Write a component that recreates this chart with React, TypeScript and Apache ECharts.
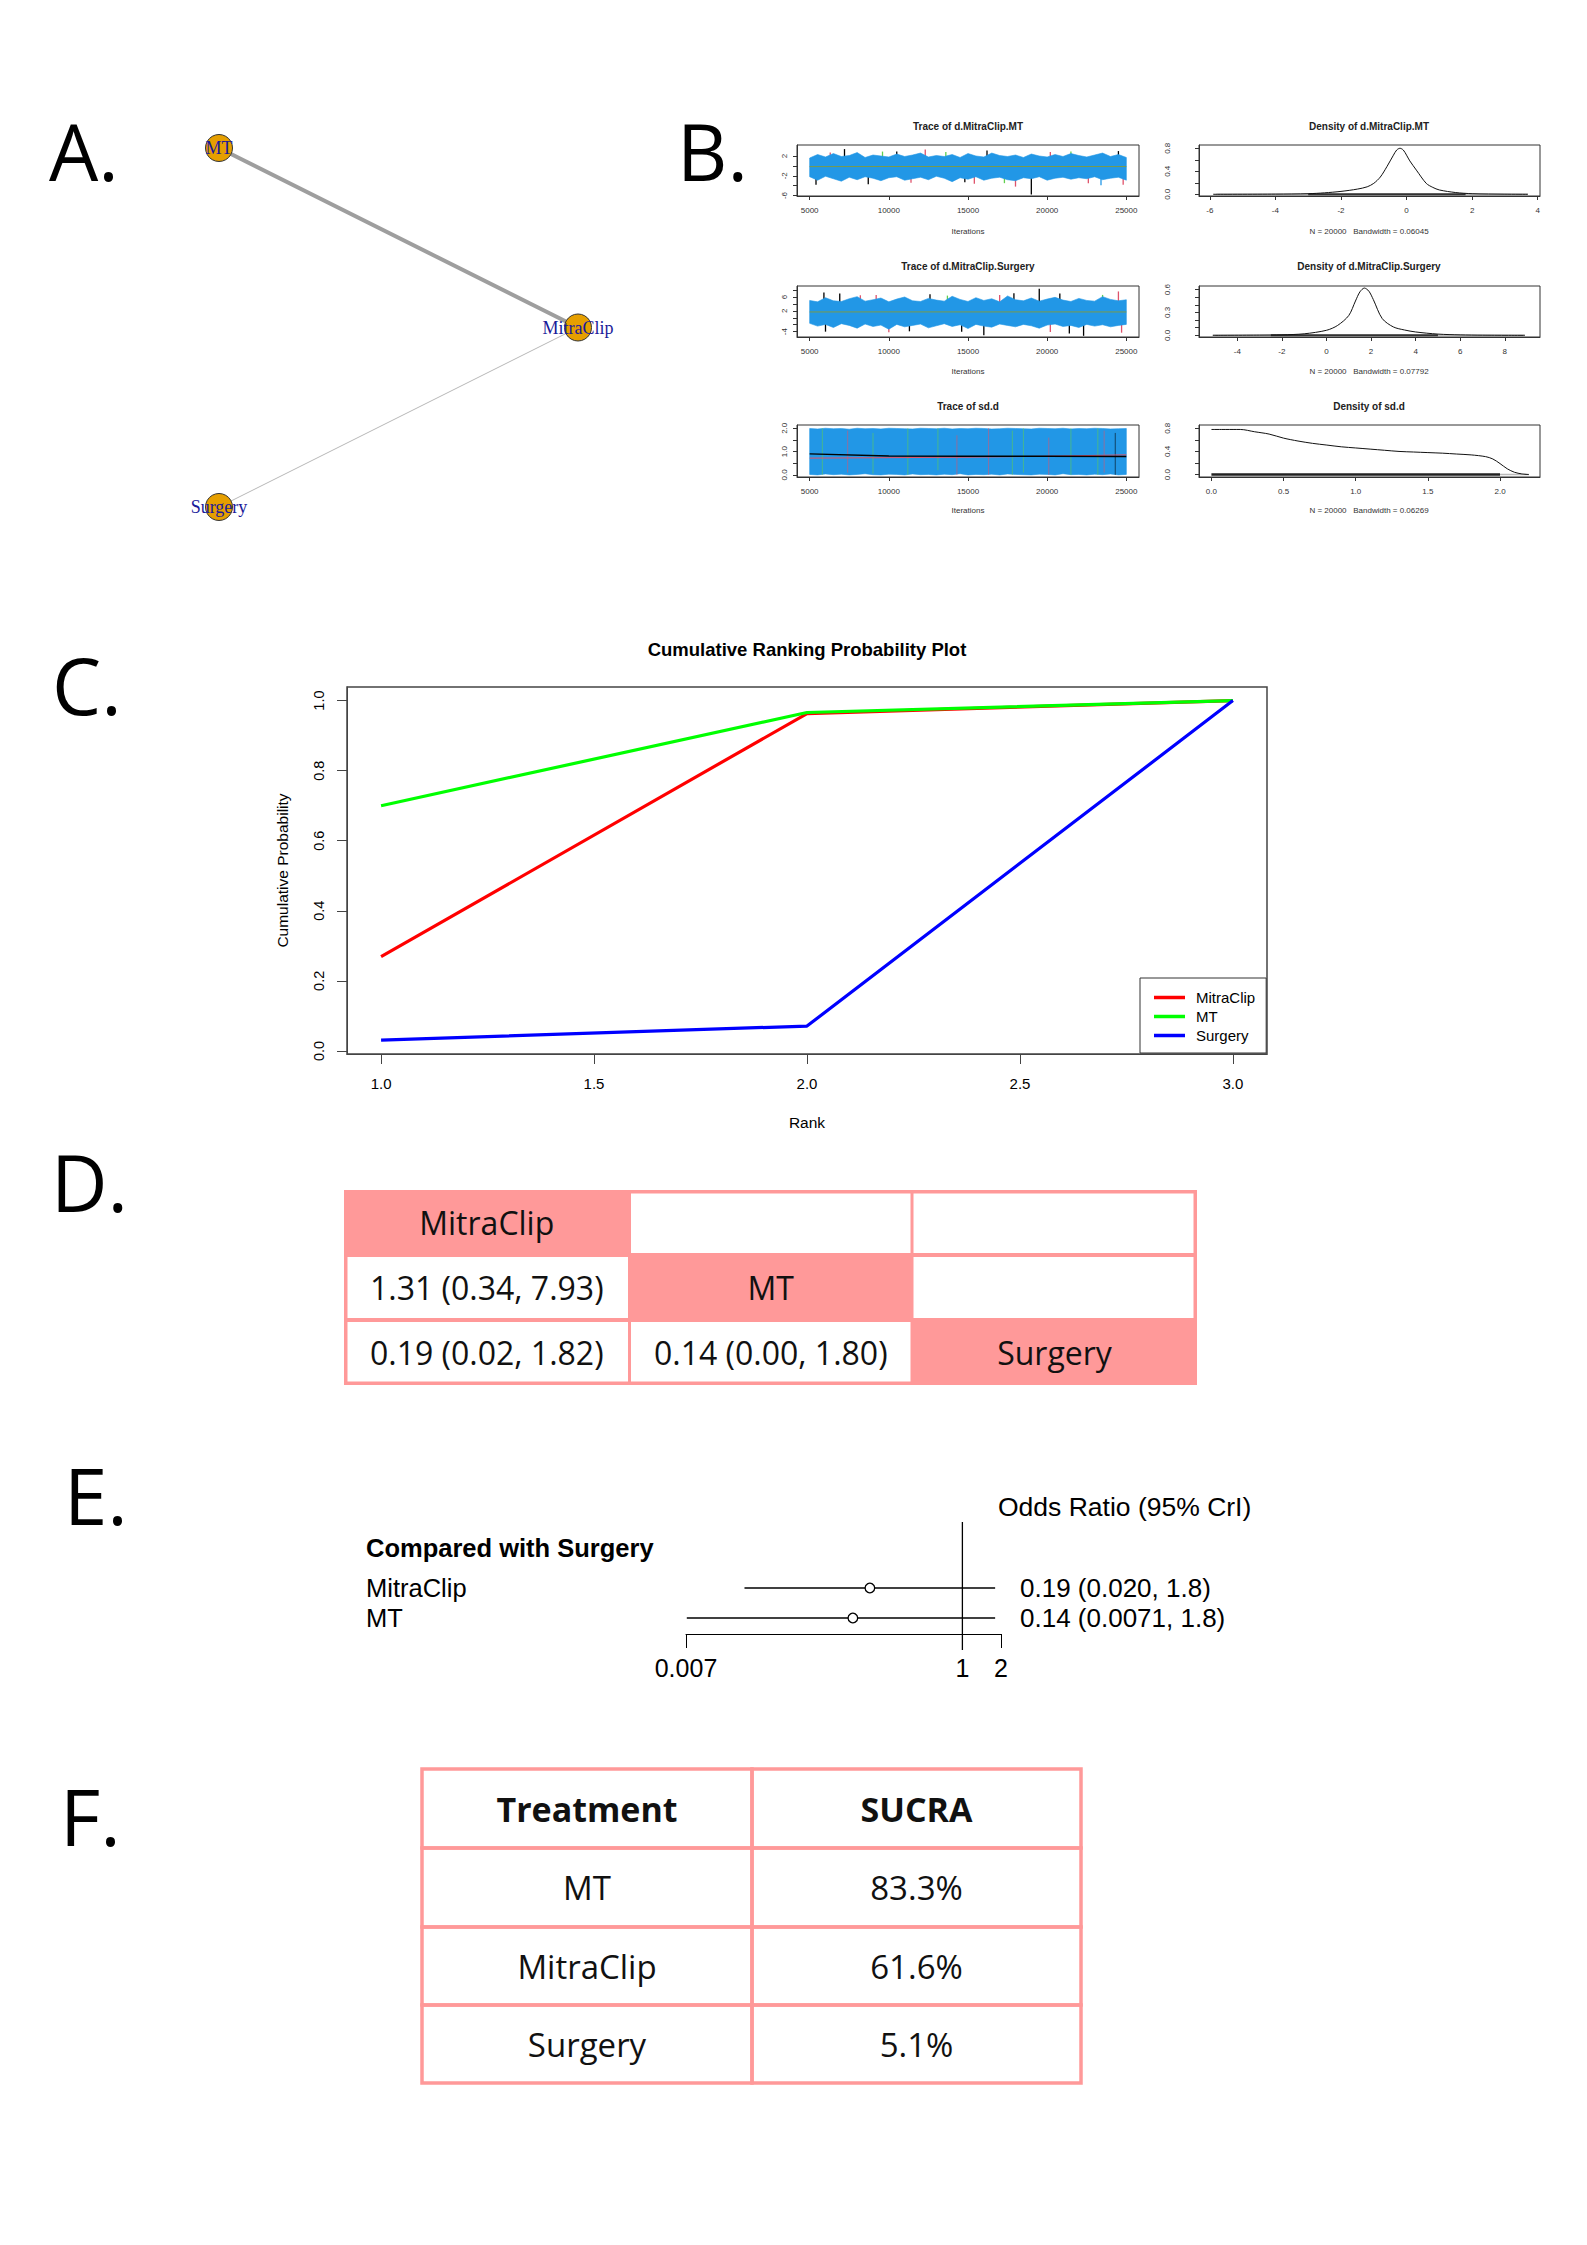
import React, { useEffect, useRef } from "react";
import * as echarts from "echarts";

const W = 1587;
const H = 2245;

// ---------------- Panel A: network ----------------
const netNodes = ["MitraClip", "MT", "Surgery"];
const netLayoutX = [1, -0.5, -0.5];
const netLayoutY = [0, 0.866, -0.866];
const netEdgeFrom = ["MT", "MitraClip"];
const netEdgeTo = ["MitraClip", "Surgery"];
const netEdgeStudies = [4, 1];

// ---------------- Panel B: traces ----------------
const traceIter = [5000, 5500, 6000, 6500, 7000, 7500, 8000, 8500, 9000, 9500, 10000, 10500, 11000, 11500, 12000, 12500, 13000, 13500, 14000, 14500, 15000, 15500, 16000, 16500, 17000, 17500, 18000, 18500, 19000, 19500, 20000, 20500, 21000, 21500, 22000, 22500, 23000, 23500, 24000, 24500, 25000];
const trace1Upper = [1.6, 2.3, 1.8, 2.5, 1.9, 2.1, 2.7, 1.7, 2.2, 2.0, 1.8, 2.4, 1.9, 2.2, 2.6, 1.8, 2.1, 1.9, 2.3, 1.7, 2.5, 2.0, 1.8, 2.6, 2.1, 1.9, 2.2, 1.7, 2.4, 2.0, 1.8, 2.3, 1.9, 2.5, 2.1, 1.8, 2.2, 2.6, 1.9, 2.3, 1.7];
const trace1Lower = [-2.2, -2.9, -2.1, -2.6, -3.1, -2.3, -2.8, -2.2, -2.5, -3.0, -2.4, -2.2, -2.9, -2.6, -2.3, -2.8, -2.1, -2.5, -3.2, -2.4, -2.7, -2.2, -2.9, -2.5, -2.3, -2.8, -3.0, -2.4, -2.6, -2.2, -2.9, -2.5, -2.3, -2.7, -2.4, -2.6, -2.2, -2.8, -2.5, -2.3, -2.9];
const trace2Upper = [5.0, 4.6, 5.8, 4.9, 4.7, 5.5, 6.1, 4.8, 5.2, 5.7, 4.6, 5.4, 6.0, 4.9, 4.7, 5.6, 5.1, 4.8, 6.2, 5.3, 4.7, 5.8, 5.0, 5.5, 4.6, 6.3, 5.2, 4.9, 5.7, 4.8, 5.4, 5.9, 5.1, 4.7, 5.6, 5.0, 4.8, 6.1, 5.3, 4.9, 5.2];
const trace2Lower = [-1.6, -2.4, -1.9, -2.8, -1.7, -2.2, -3.0, -1.8, -2.5, -2.1, -3.3, -1.9, -2.6, -2.2, -1.8, -2.9, -2.3, -1.7, -2.5, -2.0, -3.1, -1.9, -2.4, -2.7, -1.8, -2.2, -2.6, -1.9, -2.3, -3.0, -2.1, -1.8, -2.5, -2.2, -2.8, -1.9, -2.4, -2.0, -2.6, -2.2, -1.9];
const trace3Upper = [1.99, 1.97, 2.0, 1.98, 1.99, 1.96, 2.0, 1.98, 1.99, 1.97, 2.0, 1.99, 1.98, 1.97, 2.0, 1.99, 1.98, 2.0, 1.97, 1.99, 1.98, 2.0, 1.99, 1.97, 1.98, 2.0, 1.99, 1.98, 1.97, 2.0, 1.99, 1.98, 2.0, 1.97, 1.99, 1.98, 2.0, 1.99, 1.97, 1.98, 1.99];
const trace3Lower = [0.02, 0.0, 0.04, 0.01, 0.03, 0.0, 0.02, 0.05, 0.01, 0.0, 0.03, 0.02, 0.0, 0.04, 0.01, 0.02, 0.0, 0.03, 0.01, 0.05, 0.0, 0.02, 0.01, 0.03, 0.0, 0.04, 0.02, 0.01, 0.0, 0.03, 0.02, 0.0, 0.05, 0.01, 0.02, 0.0, 0.03, 0.01, 0.04, 0.0, 0.02];
// [iteration, from, to, chain]
const trace1Spikes = [[5400, -1, -3.8, 0], [6300, 1, 2.7, 1], [7200, 1, 3.4, 0], [8700, -1, -3.7, 0], [9600, 1, 2.9, 2], [10500, 1, 2.9, 0], [11400, -1, -3.4, 1], [12300, 1, 3.3, 1], [13600, 1, 2.8, 2], [14800, -1, -3.3, 0], [15400, -1, -3.6, 1], [16200, 1, 3.1, 0], [17300, -1, -3.5, 2], [18000, -1, -4.2, 1], [19000, -1, -5.8, 0], [20200, 1, 2.8, 1], [21500, 1, 2.9, 2], [22600, -1, -3.5, 1], [23400, -1, -3.9, 3], [24500, 1, 3.0, 0], [24800, -1, -3.8, 1]];
const trace2Spikes = [[5900, 2, 7.3, 0], [6000, 0, -4.0, 0], [6900, 2, 7.0, 0], [8200, 2, 6.5, 1], [9200, 2, 6.6, 1], [10000, 0, -4.2, 1], [11300, 0, -3.9, 0], [12600, 2, 6.8, 0], [13700, 2, 6.4, 2], [14600, 0, -4.0, 0], [16000, 0, -5.0, 0], [17000, 2, 6.6, 1], [17900, 2, 7.1, 0], [19500, 2, 8.4, 0], [20200, 0, -4.1, 1], [20800, 2, 7.0, 0], [21400, 0, -4.5, 0], [22300, 0, -5.2, 0], [23500, 2, 6.6, 2], [24500, 2, 7.6, 1], [24700, 0, -4.3, 1]];
const trace3Stripes = [[5800, 0, 2, 2], [7400, 0.1, 1.9, 1], [9000, 0.05, 1.8, 2], [11200, 0, 2, 2], [13100, 0.2, 2, 2], [14300, 0, 1.7, 1], [16300, 0, 2, 1], [17800, 0, 1.9, 2], [18500, 0.1, 2, 2], [20100, 0, 1.6, 1], [21500, 0, 2, 2], [23200, 0, 2, 2], [23600, 0.1, 1.9, 1], [24300, 0, 1.8, 0]];
const traceSmoothIter = [5000, 10000, 15000, 20000, 25000];
const trace1Smooth = [-0.15, -0.13, -0.14, -0.13, -0.14];
const trace2Smooth = [1.68, 1.7, 1.69, 1.7, 1.68];
const trace3SmoothA = [0.9, 0.81, 0.8, 0.8, 0.79];
const trace3SmoothB = [0.72, 0.74, 0.76, 0.8, 0.86];

// ---------------- Panel B: densities ----------------
const dens1X = [-5.9, -4, -3, -2.5, -2, -1.5, -1.2, -1, -0.8, -0.6, -0.4, -0.3, -0.2, -0.1, 0, 0.1, 0.3, 0.6, 0.8, 1, 1.5, 2, 3, 3.7];
const dens1Y = [0, 0.003, 0.01, 0.025, 0.05, 0.09, 0.13, 0.19, 0.3, 0.48, 0.68, 0.77, 0.8, 0.77, 0.68, 0.58, 0.42, 0.19, 0.12, 0.075, 0.03, 0.01, 0.002, 0];
const dens2X = [-5.1, -3, -2, -1, 0, 0.5, 1, 1.3, 1.5, 1.7, 1.9, 2.1, 2.5, 3, 3.5, 4, 5, 6, 7, 8.9];
const dens2Y = [0, 0.003, 0.006, 0.02, 0.066, 0.13, 0.26, 0.45, 0.57, 0.62, 0.58, 0.47, 0.22, 0.11, 0.07, 0.044, 0.016, 0.006, 0.002, 0];
const dens3X = [0, 0.1, 0.2, 0.3, 0.4, 0.5, 0.6, 0.7, 0.8, 0.9, 1.0, 1.1, 1.2, 1.3, 1.4, 1.5, 1.6, 1.7, 1.8, 1.9, 1.95, 2.0, 2.05, 2.1, 2.15, 2.2];
const dens3Y = [0.78, 0.78, 0.78, 0.74, 0.7, 0.63, 0.58, 0.54, 0.51, 0.48, 0.46, 0.44, 0.42, 0.4, 0.39, 0.38, 0.37, 0.355, 0.34, 0.31, 0.27, 0.19, 0.1, 0.04, 0.012, 0];
const dens1RugLight = [-5.8, 3.7];
const dens1RugDark = [-3, 1.8];
const dens2RugLight = [-5.1, 8.9];
const dens2RugDark = [-2.5, 5];
const dens3RugLight = [2.0, 2.2];
const dens3RugDark = [0, 2.0];
const densBandwidth = ["0.06045", "0.07792", "0.06269"];

// ---------------- Panel C ----------------
const rankX = [1, 2, 3];
const cumNames = ["MitraClip", "MT", "Surgery"];
const cumMitraClip = [0.269, 0.963, 1];
const cumMT = [0.7, 0.966, 1];
const cumSurgery = [0.031, 0.071, 1];
const cTicksX = [1, 1.5, 2, 2.5, 3];
const cTicksY = [0, 0.2, 0.4, 0.6, 0.8, 1.0];

// ---------------- Panel D ----------------
const leagueCells = [
  ["MitraClip", "", ""],
  ["1.31 (0.34, 7.93)", "MT", ""],
  ["0.19 (0.02, 1.82)", "0.14 (0.00, 1.80)", "Surgery"],
];

// ---------------- Panel E ----------------
const forestNames = ["MitraClip", "MT"];
const orEst = [0.19, 0.14];
const orLo = [0.02, 0.0071];
const orHi = [1.8, 1.8];
const forestTicks = [0.007, 1, 2];

// ---------------- Panel F ----------------
const sucraNames = ["MT", "MitraClip", "Surgery"];
const sucraPct = [83.3, 61.6, 5.1];

// ---------------- styling ----------------
const SANS = "'Liberation Sans', Arial, sans-serif";
const OPEN = "'Open Sans', sans-serif";
const SERIF = "'Liberation Serif', 'Times New Roman', serif";
const CHAIN = ["#000000", "#DF536B", "#61D04F", "#2297E6"];
const PINK = "#FF9999";

function txt(x: number, y: number, text: string, size: number, o: any = {}) {
  return {
    type: "text",
    x,
    y,
    rotation: o.rotation || 0,
    silent: true,
    z: 10,
    style: {
      text,
      fontSize: size,
      fontFamily: o.family || SANS,
      fontWeight: o.weight || "normal",
      fill: o.color || "#000",
      textAlign: o.align || "center",
      textVerticalAlign: "middle",
    },
  };
}

function axis(gi: number, min: number, max: number, ticks: number[], labels: number[], o: any = {}) {
  return {
    type: "value",
    gridIndex: gi,
    min,
    max,
    splitLine: { show: false },
    axisLine: { show: true, onZero: false, lineStyle: { color: o.lineColor || "#333", width: 1 } },
    axisTick: {
      show: true,
      inside: false,
      length: o.tickLen || 4,
      customValues: ticks,
      lineStyle: { color: o.lineColor || "#333", width: 1 },
    },
    axisLabel: {
      show: true,
      customValues: labels,
      formatter: o.fmt || ((v: number) => String(v)),
      fontSize: o.fontSize || 8,
      fontFamily: SANS,
      color: o.labelColor || "#333",
      margin: o.margin ?? 10,
      rotate: o.rotate || 0,
      hideOverlap: false,
    },
    name: o.name,
    nameLocation: "middle",
    nameGap: o.nameGap,
    nameTextStyle: o.nameStyle,
  };
}

const f1 = (v: number) => v.toFixed(1);

function bandSeries(idx: number, upper: number[], lower: number[]) {
  return {
    type: "custom",
    xAxisIndex: idx,
    yAxisIndex: idx,
    silent: true,
    clip: true,
    z: 3,
    data: [[traceIter[0], upper[0]]],
    renderItem: (_p: any, api: any) => {
      const top = upper.map((u, i) => api.coord([traceIter[i], u]));
      const bot = lower.map((l, i) => api.coord([traceIter[i], l])).reverse();
      return {
        type: "polygon",
        shape: { points: top.concat(bot) },
        style: { fill: CHAIN[3], stroke: CHAIN[3], lineWidth: 0.6 },
      };
    },
  };
}

function spikeSeries(idx: number, spikes: number[][], z: number, width = 1.3, opacity = 1) {
  return {
    type: "custom",
    xAxisIndex: idx,
    yAxisIndex: idx,
    silent: true,
    clip: true,
    z,
    encode: { x: 0, y: [1, 2] },
    data: spikes,
    renderItem: (_p: any, api: any) => {
      const a = api.coord([api.value(0), api.value(1)]);
      const b = api.coord([api.value(0), api.value(2)]);
      return {
        type: "line",
        shape: { x1: a[0], y1: a[1], x2: b[0], y2: b[1] },
        style: { stroke: CHAIN[api.value(3)], lineWidth: width, opacity },
      };
    },
  };
}

function lineSeries(idx: number, xs: number[], ys: number[], color: string, width: number, z = 4, smooth: any = false) {
  return {
    type: "line",
    xAxisIndex: idx,
    yAxisIndex: idx,
    data: xs.map((x, i) => [x, ys[i]]),
    symbol: "none",
    smooth,
    silent: true,
    z,
    lineStyle: { color, width },
  };
}

function buildOption() {
  const graphic: any[] = [];

  // Panel letters
  graphic.push(txt(49, 151, "A.", 78, { family: OPEN, align: "left" }));
  graphic.push(txt(677, 151, "B.", 78, { family: OPEN, align: "left" }));
  graphic.push(txt(52, 685, "C.", 78, { family: OPEN, align: "left" }));
  graphic.push(txt(51, 1182, "D.", 78, { family: OPEN, align: "left" }));
  graphic.push(txt(64, 1495, "E.", 78, { family: OPEN, align: "left" }));
  graphic.push(txt(60, 1816, "F.", 78, { family: OPEN, align: "left" }));

  // Panel B titles & captions
  const traceTitles = ["Trace of d.MitraClip.MT", "Trace of d.MitraClip.Surgery", "Trace of sd.d"];
  const densTitles = ["Density of d.MitraClip.MT", "Density of d.MitraClip.Surgery", "Density of sd.d"];
  const titleY = [126, 266, 406];
  const capY = [231, 371, 510];
  traceTitles.forEach((t, i) => {
    graphic.push(txt(968, titleY[i], t, 10, { weight: "bold", color: "#222" }));
    graphic.push(txt(968, capY[i], "Iterations", 8, { color: "#333" }));
  });
  densTitles.forEach((t, i) => {
    graphic.push(txt(1369, titleY[i], t, 10, { weight: "bold", color: "#222" }));
    graphic.push(txt(1369, capY[i], "N = 20000   Bandwidth = " + densBandwidth[i], 8, { color: "#333" }));
  });

  // Panel C title
  graphic.push(txt(807, 649, "Cumulative Ranking Probability Plot", 18.5, { weight: "bold" }));

  // Panel D: league table
  const dXs = [344, 629.5, 912, 1197];
  const dYs = [1190, 1255, 1320, 1385];
  graphic.push({
    type: "rect",
    shape: { x: dXs[0], y: dYs[0], width: dXs[3] - dXs[0], height: dYs[3] - dYs[0] },
    style: { fill: PINK },
    silent: true,
    z: 1,
  });
  leagueCells.forEach((row, r) => {
    row.forEach((cell, c) => {
      const x0 = dXs[c], x1 = dXs[c + 1], y0 = dYs[r], y1 = dYs[r + 1];
      if (r !== c) {
        const il = c === 0 ? 3.5 : 1.5;
        const ir = c === 2 ? 3.5 : 1.5;
        const it = r === 0 ? 3.5 : 2;
        const ib = r === 2 ? 3.5 : 2;
        graphic.push({
          type: "rect",
          shape: { x: x0 + il, y: y0 + it, width: x1 - x0 - il - ir, height: y1 - y0 - it - ib },
          style: { fill: "#fff" },
          silent: true,
          z: 2,
        });
      }
      if (cell) graphic.push(txt((x0 + x1) / 2, (y0 + y1) / 2, cell, 32, { family: OPEN, color: "#111" }));
    });
  });

  // Panel E texts
  graphic.push(txt(998, 1507, "Odds Ratio (95% CrI)", 26.5, { align: "left" }));
  graphic.push(txt(366, 1548, "Compared with Surgery", 25.5, { align: "left", weight: "bold" }));

  // Panel F: SUCRA table
  const fXs = [422, 752, 1081];
  const fYs = [1769, 1848, 1927, 2005, 2083];
  const fRows = [["Treatment", "SUCRA"], ...sucraNames.map((n, i) => [n, sucraPct[i].toFixed(1) + "%"])];
  fRows.forEach((row, r) => {
    row.forEach((cell, c) => {
      const x0 = fXs[c], x1 = fXs[c + 1], y0 = fYs[r], y1 = fYs[r + 1];
      graphic.push({
        type: "rect",
        shape: { x: x0, y: y0, width: x1 - x0, height: y1 - y0 },
        style: { fill: "none", stroke: PINK, lineWidth: 3.5 },
        silent: true,
        z: 2,
      });
      graphic.push(
        txt((x0 + x1) / 2, (y0 + y1) / 2, cell, r === 0 ? 34 : 33, {
          family: OPEN,
          weight: r === 0 ? "bold" : "normal",
          color: "#111",
        })
      );
    });
  });

  const grid = [
    { left: 219, top: 148, width: 359, height: 359, show: false },
    { left: 797, top: 145, width: 342, height: 51, show: true, borderColor: "#333", borderWidth: 1 },
    { left: 797, top: 286, width: 342, height: 51, show: true, borderColor: "#333", borderWidth: 1 },
    { left: 797, top: 425, width: 342, height: 52, show: true, borderColor: "#333", borderWidth: 1 },
    { left: 1199, top: 145, width: 341, height: 51, show: true, borderColor: "#333", borderWidth: 1 },
    { left: 1199, top: 286, width: 341, height: 51, show: true, borderColor: "#333", borderWidth: 1 },
    { left: 1199, top: 425, width: 341, height: 52, show: true, borderColor: "#333", borderWidth: 1 },
    { left: 347, top: 687, width: 920, height: 367, show: true, borderColor: "#444", borderWidth: 1.5 },
    { left: 686, top: 1522, width: 315, height: 112, show: false },
  ];

  const traceXTicks = [5000, 10000, 15000, 20000, 25000];
  const logMin = Math.log10(forestTicks[0]);
  const logMax = Math.log10(forestTicks[forestTicks.length - 1]);
  const logTicks = forestTicks.map((t) => Math.log10(t));

  const xAxis: any[] = [
    { type: "value", gridIndex: 0, min: -0.5, max: 1, show: false },
    axis(1, 4200, 25800, traceXTicks, traceXTicks, { margin: 10.5 }),
    axis(2, 4200, 25800, traceXTicks, traceXTicks, { margin: 10.5 }),
    axis(3, 4200, 25800, traceXTicks, traceXTicks, { margin: 10.5 }),
    axis(4, -6.33, 4.07, [-6, -4, -2, 0, 2, 4], [-6, -4, -2, 0, 2, 4], { margin: 10.5 }),
    axis(5, -5.72, 9.58, [-4, -2, 0, 2, 4, 6, 8], [-4, -2, 0, 2, 4, 6, 8], { margin: 10.5 }),
    axis(6, -0.086, 2.277, [0, 0.5, 1, 1.5, 2], [0, 0.5, 1, 1.5, 2], { margin: 10.5, fmt: f1 }),
    axis(7, 0.92, 3.08, cTicksX, cTicksX, {
      margin: 21.5,
      tickLen: 10,
      fontSize: 15,
      fmt: f1,
      labelColor: "#000",
      lineColor: "#444",
      name: "Rank",
      nameGap: 60,
      nameStyle: { fontSize: 15.5, fontFamily: SANS, color: "#000" },
    }),
    axis(8, logMin, logMax, logTicks, logTicks, {
      margin: 21,
      tickLen: 14,
      fontSize: 25,
      labelColor: "#000",
      lineColor: "#000",
      fmt: (v: number) => String(Number(Math.pow(10, v).toPrecision(1))),
    }),
  ];

  const yAxis: any[] = [
    { type: "value", gridIndex: 0, min: -0.866, max: 0.866, show: false },
    axis(1, -6.1, 4.23, [-6, -4, -2, 0, 2], [-6, -2, 2], { rotate: 90, margin: 9 }),
    axis(2, -5.54, 9.17, [-4, -2, 0, 2, 4, 6, 8], [-4, 2, 6], { rotate: 90, margin: 9 }),
    axis(3, -0.09, 2.14, [0, 0.5, 1, 1.5, 2], [0, 1, 2], { rotate: 90, margin: 9, fmt: f1 }),
    axis(4, -0.03, 0.857, [0, 0.2, 0.4, 0.6, 0.8], [0, 0.4, 0.8], { rotate: 90, margin: 28, fmt: f1 }),
    axis(5, -0.022, 0.647, [0, 0.1, 0.2, 0.3, 0.4, 0.5, 0.6], [0, 0.3, 0.6], { rotate: 90, margin: 28, fmt: f1 }),
    axis(6, -0.042, 0.857, [0, 0.2, 0.4, 0.6, 0.8], [0, 0.4, 0.8], { rotate: 90, margin: 28, fmt: f1 }),
    axis(7, -0.0088, 1.0388, cTicksY, cTicksY, {
      rotate: 90,
      margin: 21,
      tickLen: 10,
      fontSize: 14.5,
      fmt: f1,
      labelColor: "#000",
      lineColor: "#444",
      name: "Cumulative Probability",
      nameGap: 57,
      nameStyle: { fontSize: 15.5, fontFamily: SANS, color: "#000" },
    }),
    { type: "value", gridIndex: 8, min: 0.4667, max: 4.2, show: false },
  ];

  const series: any[] = [];

  // Panel A network
  series.push({
    type: "graph",
    coordinateSystem: "cartesian2d",
    xAxisIndex: 0,
    yAxisIndex: 0,
    symbol: "circle",
    symbolSize: 27,
    roam: false,
    silent: true,
    data: netNodes.map((n, i) => ({ name: n, value: [netLayoutX[i], netLayoutY[i]] })),
    links: netEdgeFrom.map((s, i) => ({
      source: s,
      target: netEdgeTo[i],
      lineStyle: { width: netEdgeStudies[i], color: netEdgeStudies[i] > 1 ? "#9E9E9E" : "#B8B8B8", opacity: 1 },
    })),
    itemStyle: { color: "#E69F00", borderColor: "#333", borderWidth: 1 },
    label: { show: true, position: "inside", color: "#1A1A9A", fontFamily: SERIF, fontSize: 18, formatter: "{b}" },
    lineStyle: { curveness: 0, opacity: 1 },
  });

  // Traces
  series.push(spikeSeries(1, trace1Spikes, 2));
  series.push(bandSeries(1, trace1Upper, trace1Lower));
  series.push(lineSeries(1, traceSmoothIter, trace1Smooth, "#7A9A4A", 1));
  series.push(spikeSeries(2, trace2Spikes, 2));
  series.push(bandSeries(2, trace2Upper, trace2Lower));
  series.push(lineSeries(2, traceSmoothIter, trace2Smooth, "#7A9A4A", 1));
  series.push(bandSeries(3, trace3Upper, trace3Lower));
  series.push(spikeSeries(3, trace3Stripes, 4, 0.8, 0.7));
  series.push(lineSeries(3, traceSmoothIter, trace3SmoothB, "#DF536B", 1, 5));
  series.push(lineSeries(3, traceSmoothIter, trace3SmoothA, "#000", 1.4, 5));

  // Densities
  series.push(lineSeries(4, dens1RugLight, [0, 0], "#BBBBBB", 1.5, 3));
  series.push(lineSeries(4, dens1RugDark, [0, 0], "#333", 2, 3));
  series.push(lineSeries(4, dens1X, dens1Y, "#111", 1, 4, 0.3));
  series.push(lineSeries(5, dens2RugLight, [0, 0], "#BBBBBB", 1.5, 3));
  series.push(lineSeries(5, dens2RugDark, [0, 0], "#333", 2, 3));
  series.push(lineSeries(5, dens2X, dens2Y, "#111", 1, 4, 0.3));
  series.push(lineSeries(6, dens3RugLight, [0, 0], "#BBBBBB", 1.5, 3));
  series.push(lineSeries(6, dens3RugDark, [0, 0], "#222", 2.5, 3));
  series.push(lineSeries(6, dens3X, dens3Y, "#111", 1, 4, 0.3));

  // Panel C
  const cumData = [cumMitraClip, cumMT, cumSurgery];
  const cumColors = ["#FF0000", "#00FF00", "#0000FF"];
  cumNames.forEach((n, i) => {
    series.push({
      type: "line",
      name: n,
      xAxisIndex: 7,
      yAxisIndex: 7,
      data: rankX.map((r, j) => [r, cumData[i][j]]),
      symbol: "none",
      silent: true,
      z: 3 + i,
      lineStyle: { color: cumColors[i], width: 3.2 },
      itemStyle: { color: cumColors[i] },
    });
  });

  // Panel E: forest plot
  series.push({
    type: "custom",
    xAxisIndex: 8,
    yAxisIndex: 8,
    silent: true,
    clip: false,
    z: 3,
    data: [[0, 4.2]],
    renderItem: (params: any, api: any) => {
      const cs = params.coordSys;
      const x = api.coord([api.value(0), 1])[0];
      return {
        type: "line",
        shape: { x1: x, y1: cs.y, x2: x, y2: cs.y + cs.height + 16 },
        style: { stroke: "#000", lineWidth: 1.3 },
      };
    },
  });
  series.push({
    type: "custom",
    xAxisIndex: 8,
    yAxisIndex: 8,
    silent: true,
    clip: false,
    z: 4,
    encode: { x: [0, 1, 2], y: 3 },
    data: forestNames.map((n, i) => [Math.log10(orLo[i]), Math.log10(orEst[i]), Math.log10(orHi[i]), forestNames.length - i]),
    renderItem: (params: any, api: any) => {
      const i = params.dataIndex;
      const cs = params.coordSys;
      const lo = api.coord([api.value(0), api.value(3)]);
      const est = api.coord([api.value(1), api.value(3)]);
      const hi = api.coord([api.value(2), api.value(3)]);
      const label = orEst[i].toPrecision(2) + " (" + orLo[i].toPrecision(2) + ", " + orHi[i].toPrecision(2) + ")";
      return {
        type: "group",
        children: [
          { type: "line", shape: { x1: lo[0], y1: lo[1], x2: hi[0], y2: hi[1] }, style: { stroke: "#000", lineWidth: 1.4 } },
          { type: "circle", shape: { cx: est[0], cy: est[1], r: 4.8 }, style: { fill: "#fff", stroke: "#000", lineWidth: 1.3 } },
          {
            type: "text",
            x: cs.x - 320,
            y: est[1],
            style: { text: forestNames[i], fontSize: 25.5, fontFamily: SANS, fill: "#000", textAlign: "left", textVerticalAlign: "middle" },
          },
          {
            type: "text",
            x: cs.x + cs.width + 19,
            y: est[1],
            style: { text: label, fontSize: 26, fontFamily: SANS, fill: "#000", textAlign: "left", textVerticalAlign: "middle" },
          },
        ],
      };
    },
  });

  return {
    animation: false,
    backgroundColor: "#fff",
    grid,
    xAxis,
    yAxis,
    series,
    graphic,
    legend: {
      orient: "vertical",
      left: 1140,
      top: 978,
      icon: "rect",
      itemWidth: 31,
      itemHeight: 3.5,
      itemGap: 4,
      padding: [12, 11, 10, 14],
      borderColor: "#333",
      borderWidth: 1,
      backgroundColor: "#fff",
      selectedMode: false,
      data: cumNames,
      textStyle: { fontSize: 15, fontFamily: SANS, color: "#000", padding: [0, 0, 0, 6] },
    },
  };
}

export default function App() {
  const ref = useRef<HTMLDivElement>(null);
  useEffect(() => {
    if (!ref.current) return;
    const chart = echarts.init(ref.current, null, { renderer: "svg", width: W, height: H });
    chart.setOption(buildOption() as any);
    return () => chart.dispose();
  }, []);
  return <div ref={ref} style={{ position: "absolute", left: 0, top: 0, width: W, height: H, background: "#fff" }} />;
}
